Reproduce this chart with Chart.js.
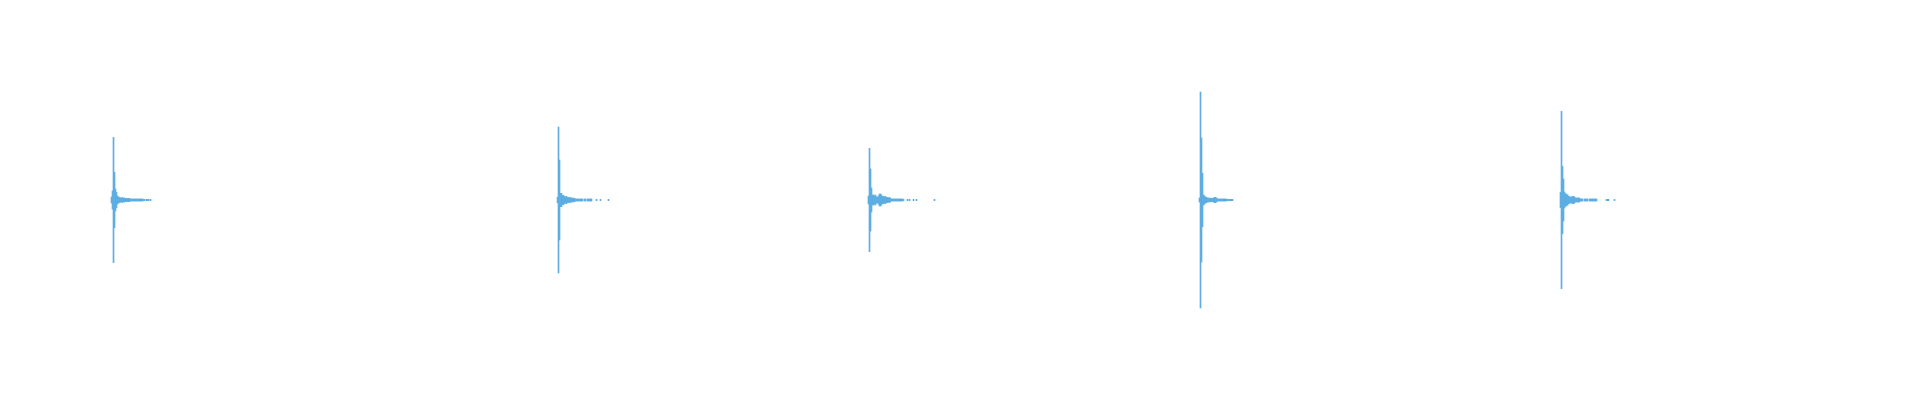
<!DOCTYPE html>
<html>
<head>
<meta charset="utf-8">
<script src="https://cdn.jsdelivr.net/npm/chart.js@4.4.1/dist/chart.umd.min.js"></script>
<style>
  html, body { margin: 0; padding: 0; background: #ffffff; }
  #wrap { width: 1920px; height: 400px; position: relative; }
</style>
</head>
<body>
<div id="wrap"><canvas id="wave"></canvas></div>
<script>
// Waveform peaks: each burst starts at a sample index, then one peak
// amplitude per sample (percent of full scale, null = silent sample)
const burstStarts = [111, 557, 868, 1199, 1560];

const burst1 = [1.5, 4.5, 31.3, 13.8, 5.5, 3.8, 2, 1.5, 1.3, 1, 1, 1.3, 0.8, 1, 0.8,
  0.8, 0.8, 0.8, 0.8, 0.5, 0.5, 0.5, 0.5, 0.5, 0.5, 0.5, 0.5, 0.5, 0.5, 0.5, 0.5,
  0.5, 0.35, 0.35, null, 0.35, 0.35, 0.35, null, 0.35];

const burst2 = [1.3, 36.5, 20, 3.3, 3.3, 2.3, 2.3, 1.8, 1.5, 1.8, 1.3, 1.3, 1, 1.3,
  1, 0.8, 1, 0.8, 0.5, 0.5, 0.5, 0.5, 0.5, 0.5, 0.5, 0.5, null, 0.5, 0.5, null,
  0.5, 0.5, 0.5, 0.5, 0.5, null, null, null, null, 0.35, null, null, null, 0.35,
  null, null, null, null, null, null, null, 0.35];

const burst3 = [2, 25.8, 15.5, 6, 2.5, 2.5, 2, 2.5, 1.5, 1.5, 2, 3, 3, 2.5, 1.8, 1.8,
  1.5, 1.8, 1.3, 1.3, 1, 1.3, 0.8, 0.5, 0.5, 0.5, 0.5, 0.5, 0.5, 0.5, 0.5, 0.5,
  0.5, 0.5, 0.5, 0.35, null, null, null, 0.35, null, 0.35, null, null, null, 0.35,
  null, null, 0.35, null, null, null, null, null, null, null, null, null, null,
  null, null, null, null, null, null, null, 0.35];

const burst4 = [1, 54, 31, 13.3, 2.5, 2, 1.5, 1.3, 1, 1, 0.8, 1, 0.8, 0.8, 1, 1.3,
  1.3, 1, 0.5, 0.5, 0.5, 0.5, 0.5, 0.5, 0.5, 0.5, 0.5, 0.5, 0.35, 0.35, 0.35,
  0.35, 0.35, 0.35];

const burst5 = [3.8, 44.3, 16.8, 10.5, 4, 3, 3, 2.5, 2, 1.5, 1.5, 1.5, 1.8, 1.8, 1.5,
  1, 1, 1, 1, 1, 0.5, 0.5, 0.5, null, 0.5, 0.5, 0.5, 0.5, null, 0.5, 0.5, 0.5,
  0.5, 0.5, 0.5, 0.5, 0.5, null, null, null, null, null, null, null, null, null,
  0.35, 0.35, 0.35, null, null, null, null, null, 0.35];

const bursts = [burst1, burst2, burst3, burst4, burst5];

// floating bars [-peak, +peak] per sample
const points = [];
bursts.forEach((amps, b) => {
  amps.forEach((a, i) => {
    if (a === null) return;
    points.push({ x: burstStarts[b] + i, y: [-a, a] });
  });
});

const ctx = document.getElementById("wave").getContext("2d");
new Chart(ctx, {
  type: "bar",
  data: {
    datasets: [{
      label: "Waveform",
      data: points,
      backgroundColor: "#5DADE2",
      borderWidth: 0,
      barPercentage: 1,
      categoryPercentage: 1
    }]
  },
  options: {
    responsive: true,
    maintainAspectRatio: false,
    animation: false,
    layout: { padding: 0 },
    plugins: {
      legend: { display: false },
      tooltip: { enabled: false }
    },
    scales: {
      x: {
        type: "linear",
        min: -0.5,
        max: 1919.5,
        offset: false,
        grid: { offset: false },
        display: false
      },
      y: { min: -100, max: 100, display: false }
    }
  }
});
</script>
</body>
</html>
